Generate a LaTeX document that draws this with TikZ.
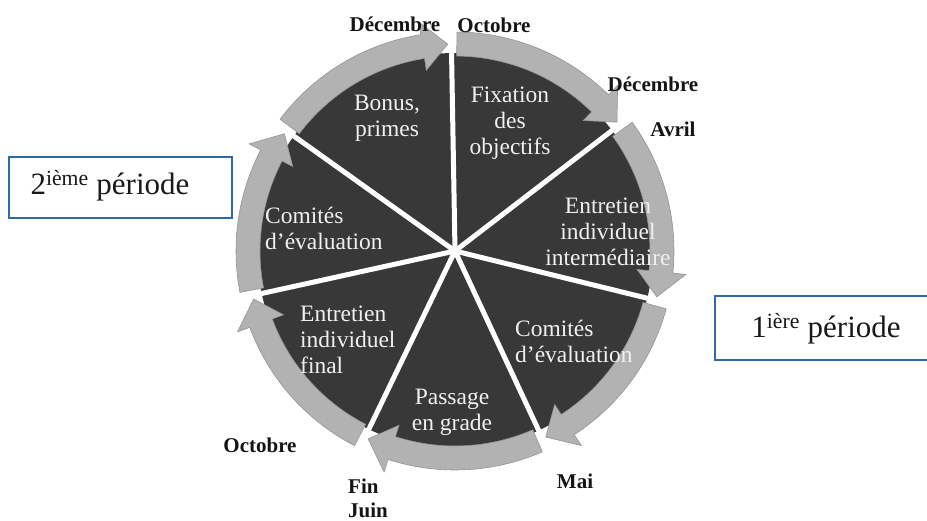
\documentclass[tikz,border=0pt]{standalone}
\usepackage{fontspec}
\setmainfont{Liberation Serif}
\begin{document}
\begin{tikzpicture}[x=1pt,y=1pt,
  sect/.style={fill=black!78},
  gapline/.style={draw=white,line width=5pt,line cap=round},
  ringarrow/.style={fill=black!30,draw=black!42,line width=0.6pt},
  sectxt/.style={text=black!6,font=\fontsize{23.5}{26}\selectfont,inner sep=0pt},
  month/.style={font=\fontsize{21}{24}\selectfont\bfseries,inner sep=0pt,text=black!92},
  periodbox/.style={line width=2pt,fill=white},
  periodtxt/.style={font=\fontsize{31}{34}\selectfont,inner sep=0pt,text=black!90}]
\useasboundingbox (0,0) rectangle (927,520);
\definecolor{boxblue}{HTML}{2F6BA3}
% arrow macro: #1 start angle, #2 tip angle (clockwise, #1 > #2)
\newcommand\ringarr[2]{%
  \filldraw[ringarrow] (#1:219) arc[start angle=#1, end angle=#2+7, radius=219]
    -- (#2+7:232) -- (#2:207) -- (#2+7:183) -- (#2+7:195)
    arc[start angle=#2+7, end angle=#1, radius=195] -- cycle;}
\begin{scope}[shift={(455,269)}]
  % sectors
  \foreach \a/\b in {91/37.5, 37.5/-13.8, -13.8/-65, -65/-115.8, -115.8/-167.6, -167.6/-215.5, 144.5/91}
    \fill[sect] (0,0) -- (\b:198) arc[start angle=\b, end angle=\a, radius=198] -- cycle;
  % white gaps
  \foreach \g in {91,37.5,-13.8,-65,-115.8,-167.6,144.5}
    \draw[gapline] (0,0) -- (\g:200);
  % ring arrows
  \ringarr{89.5}{38.5}
  \ringarr{36}{-12.8}
  \ringarr{-15.3}{-64}
  \ringarr{-66.5}{-114.8}
  \ringarr{-117.3}{-166.6}
  \ringarr{-169.1}{-214.5}
  \ringarr{143}{92}
  % centre star
  \fill[white] (0,0) circle (4);
\end{scope}
% sector texts
\node[sectxt,align=center] (bonus) at (387,402) {Bonus,\\primes};
\node[sectxt,align=center] (fix) at (510,397) {Fixation\\des\\objectifs};
\node[sectxt,align=center] (inter) at (608,288) {Entretien\\individuel\\intermédiaire};
\node[sectxt,align=left,anchor=west] (comg) at (265,292) {Comités\\d’évaluation};
\node[sectxt,align=left,anchor=west] (final) at (300,180) {Entretien\\individuel\\final};
\node[sectxt,align=left,anchor=west] (comd) at (515,179) {Comités\\d’évaluation};
\node[sectxt,align=center] (pass) at (452,108) {Passage\\en grade};
% month labels
\node[month,anchor=base] (m1) at (395,488) {Décembre};
\node[month,anchor=base] (m2) at (494,487) {Octobre};
\node[month,anchor=base] (m3) at (653,428) {Décembre};
\node[month,anchor=base] (m4) at (673,383) {Avril};
\node[month,anchor=base] (m5) at (575,32) {Mai};
\node[month,anchor=base] (m6) at (260,68) {Octobre};
\node[month,align=left,anchor=base west] (m7) at (348,3) {Fin\\Juin};
% period boxes
\draw[periodbox,draw=boxblue] (9,363) rectangle (232,302);
\node[periodtxt,anchor=base] (p2) at (110,325) {2\textsuperscript{ième} période};
\draw[periodbox,draw=boxblue] (715,224) rectangle (945,160);
\node[periodtxt,anchor=base] (p1) at (826,182) {1\textsuperscript{ière} période};
\end{tikzpicture}
\end{document}
